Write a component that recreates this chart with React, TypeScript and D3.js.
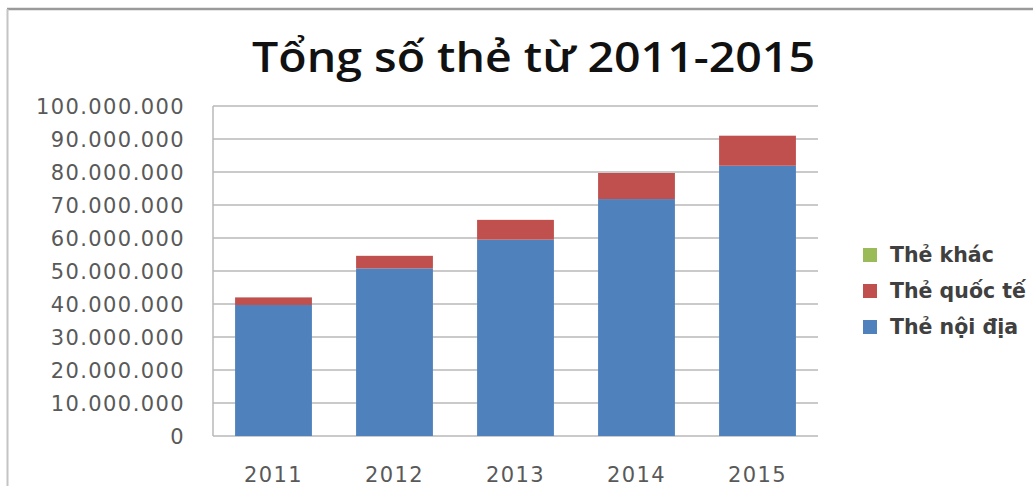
import React from 'react';
import * as d3 from 'd3';

const years = ['2011', '2012', '2013', '2014', '2015'];
const domesticCards = [39700000, 50800000, 59500000, 71800000, 81900000];
const internationalCards = [2300000, 3800000, 6000000, 7900000, 9100000];
const otherCards = [0, 0, 0, 0, 0];
const yTicks = [0, 10000000, 20000000, 30000000, 40000000, 50000000, 60000000, 70000000, 80000000, 90000000, 100000000];
const seriesKeys = ['domestic', 'international', 'other'];
const seriesNames = ['Thẻ nội địa', 'Thẻ quốc tế', 'Thẻ khác'];
const seriesColors = ['#4F81BD', '#C0504D', '#9BBB59'];
const title = 'Tổng số thẻ từ 2011-2015';

const W = 1033;
const H = 486;
const plot = { left: 213, right: 818, top: 106, bottom: 436 };

export default function App() {
  const rows = years.map((y, i) => ({
    year: y,
    domestic: domesticCards[i],
    international: internationalCards[i],
    other: otherCards[i],
  }));
  const stacked = d3.stack<any>().keys(seriesKeys)(rows);

  const x = d3
    .scaleBand<string>()
    .domain(years)
    .range([plot.left, plot.right])
    .paddingInner(0.365)
    .paddingOuter(0.1825);
  const y = d3.scaleLinear().domain([0, 100000000]).range([plot.bottom, plot.top]);
  const fmt = (v: number) => d3.format(',')(v).replace(/,/g, '.');

  // legend in reversed order (top: other)
  const legendOrder = [2, 1, 0];
  const legendY = [255, 291, 327];

  return (
    <svg
      width={W}
      height={H}
      style={{ position: 'absolute', left: 0, top: 0, background: '#fff' }}
    >
      <rect x={0} y={0} width={W} height={H} fill="#fff" />
      {/* frame */}
      <line x1={7} y1={9} x2={W} y2={9} stroke="#9a9a9a" strokeWidth={2.5} />
      <line x1={7.5} y1={9} x2={7.5} y2={H} stroke="#c4c4c4" strokeWidth={2} />

      <text
        x={533.5}
        y={72}
        textAnchor="middle"
        fontFamily="'Open Sans', sans-serif"
        fontWeight={600}
        fontSize={42}
        fill="#111"
        textLength={563}
        lengthAdjust="spacingAndGlyphs"
      >
        {title}
      </text>

      {/* gridlines */}
      {yTicks.map((t) => (
        <line
          key={t}
          x1={plot.left}
          x2={plot.right}
          y1={y(t)}
          y2={y(t)}
          stroke="#b8b8b8"
          strokeWidth={1.5}
        />
      ))}
      <line x1={plot.left} x2={plot.left} y1={plot.top} y2={plot.bottom} stroke="#b8b8b8" strokeWidth={1.5} />

      {/* y labels */}
      {yTicks.map((t) => (
        <text
          key={'l' + t}
          x={185}
          y={y(t)}
          dy="0.36em"
          textAnchor="end"
          fontFamily="'DejaVu Sans', sans-serif"
          fontSize={21}
          letterSpacing={1.4}
          fill="#595959"
        >
          {fmt(t)}
        </text>
      ))}

      {/* bars */}
      {stacked.map((s, si) =>
        s.map((d, i) => (
          <rect
            key={si + '-' + i}
            x={x(years[i])}
            width={x.bandwidth()}
            y={y(d[1])}
            height={Math.max(0, y(d[0]) - y(d[1]))}
            fill={seriesColors[si]}
          />
        ))
      )}

      {/* x labels */}
      {years.map((yr) => (
        <text
          key={yr}
          x={(x(yr) as number) + x.bandwidth() / 2}
          y={482}
          textAnchor="middle"
          fontFamily="'DejaVu Sans', sans-serif"
          fontSize={21}
          letterSpacing={1.4}
          fill="#595959"
        >
          {yr}
        </text>
      ))}

      {/* legend */}
      {legendOrder.map((si, k) => (
        <g key={si} transform={`translate(863,${legendY[k]})`}>
          <rect x={0} y={-7} width={14} height={14} fill={seriesColors[si]} />
          <text
            x={27}
            y={0}
            dy="0.36em"
            fontFamily="'DejaVu Sans', sans-serif"
            fontWeight="bold"
            fontSize={20.5}
            fill="#404040"
          >
            {seriesNames[si]}
          </text>
        </g>
      ))}
    </svg>
  );
}
